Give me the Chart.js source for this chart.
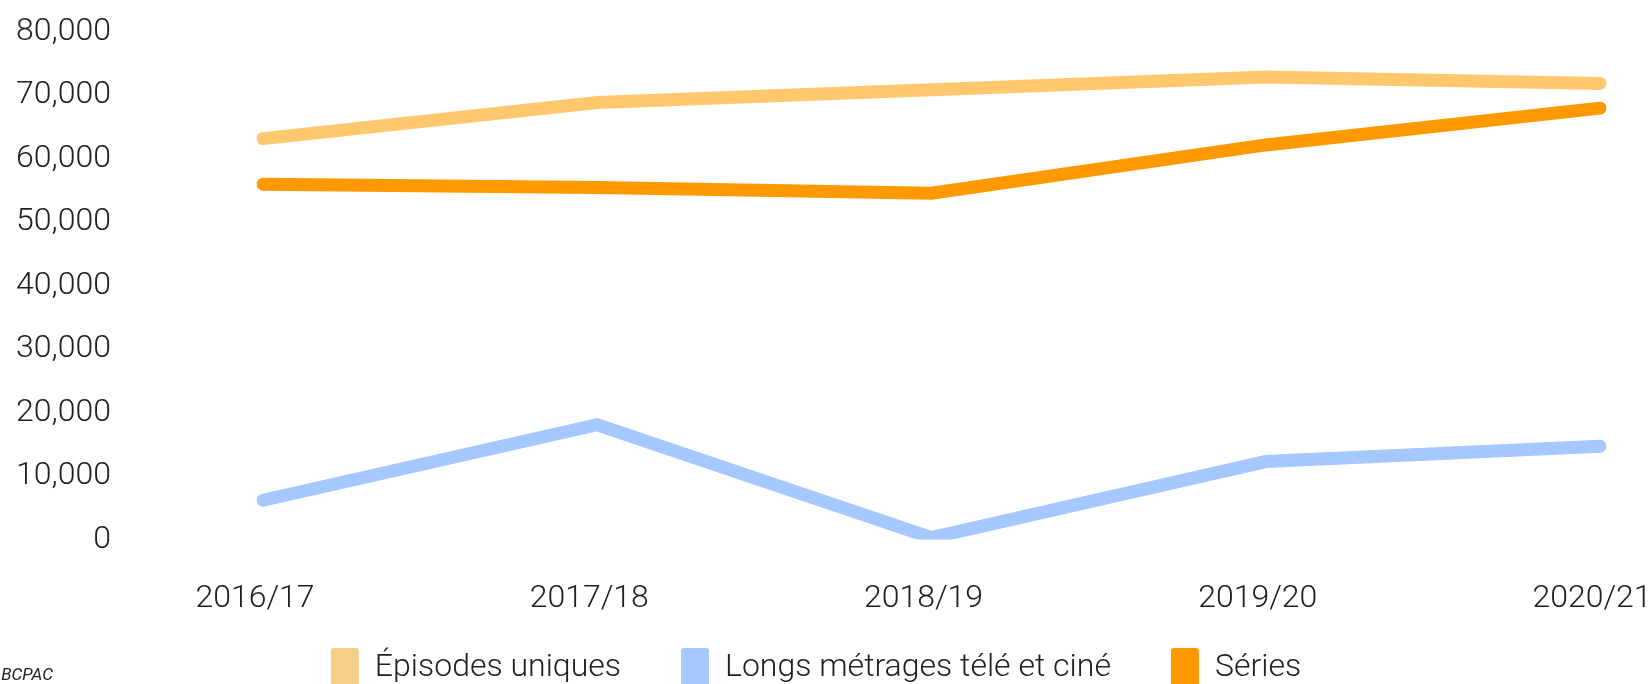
<!DOCTYPE html>
<html>
<head>
<meta charset="utf-8">
<script src="https://cdn.jsdelivr.net/npm/chart.js@4.4.1/dist/chart.umd.min.js"></script>
<style>
  html, body { margin: 0; padding: 0; background: #fff; overflow: hidden; }
  #wrap { position: relative; width: 1651px; height: 728px; }
  #source { position: absolute; right: 1598px; top: 664px; white-space: nowrap;
            font: italic 17px Roboto, sans-serif; color: #222; }
</style>
</head>
<body>
<div id="wrap">
  <canvas id="chart"></canvas>
  <div id="source">BCPAC</div>
</div>
<script>
// --- Données ---
const categories = ['2016/17', '2017/18', '2018/19', '2019/20', '2020/21'];
const episodesUniques = [63200, 68900, 70900, 72900, 71900];
const longsMetrages = [6200, 18100, 300, 12300, 14700];
const series = [56000, 55500, 54600, 62200, 68000];
const seriesNames = ['Épisodes uniques', 'Longs métrages télé et ciné', 'Séries'];
const yMin = 0;
const yMax = 80000;
const yStep = 10000;

const lineColors = ['#FFC86E', '#A4C8FF', '#FF9900'];
const legendColors = ['#F5CE87', '#A4C8FF', '#FF9900'];
const textColor = '#212121';

Chart.defaults.font.family = 'Roboto, sans-serif';
Chart.defaults.font.weight = 300;
Chart.defaults.color = textColor;

function makeDataset(label, data, color) {
    return {
        label: label,
        data: data,
        borderColor: color,
        backgroundColor: color,
        borderWidth: 13,
        borderCapStyle: 'round',
        borderJoinStyle: 'miter',
        pointRadius: 0,
        pointHoverRadius: 0,
        tension: 0,
        fill: false
    };
}

// déplace la légende (l'écart vertical est plus petit que l'écart horizontal)
const legendShift = {
    id: 'legendShift',
    afterLayout(chart) {
        chart.legend.top -= 30;
        chart.legend.bottom -= 30;
        chart.legend.left += 16;
        chart.legend.right += 16;
    }
};

const ctx = document.getElementById('chart').getContext('2d');
new Chart(ctx, {
    type: 'line',
    data: {
        labels: categories,
        datasets: [
            makeDataset(seriesNames[0], episodesUniques, lineColors[0]),
            makeDataset(seriesNames[1], longsMetrages, lineColors[1]),
            makeDataset(seriesNames[2], series, lineColors[2])
        ]
    },
    plugins: [legendShift],
    options: {
        responsive: true,
        maintainAspectRatio: false,
        animation: false,
        layout: { padding: { top: 32, right: 51, left: 0, bottom: 0 } },
        scales: {
            x: {
                grid: { display: false, drawTicks: false },
                border: { display: false },
                ticks: { font: { size: 32 }, padding: 40, labelOffset: -8, maxRotation: 0, autoSkip: false },
                afterFit: (s) => { s.paddingLeft = 0; s.paddingRight = 0; s.height = 78.4; }
            },
            y: {
                min: yMin,
                max: yMax,
                grid: { display: false, drawTicks: false },
                border: { display: false },
                ticks: {
                    stepSize: yStep,
                    font: { size: 32 },
                    padding: 152,
                    callback: (v) => v.toLocaleString('en-US')
                },
                afterFit: (s) => { s.width = 263; s.paddingTop = 0; s.paddingBottom = 0; }
            }
        },
        plugins: {
            tooltip: { enabled: false },
            legend: {
                position: 'bottom',
                labels: {
                    font: { size: 32 },
                    boxWidth: 28,
                    boxHeight: 40,
                    padding: 60,
                    useBorderRadius: true,
                    borderRadius: 3,
                    generateLabels: (chart) => {
                        const items = Chart.defaults.plugins.legend.labels.generateLabels(chart);
                        items.forEach((it, i) => {
                            it.fillStyle = legendColors[i];
                            it.strokeStyle = legendColors[i];
                            it.lineWidth = 0;
                        });
                        return items;
                    }
                }
            }
        }
    }
});
</script>
</body>
</html>
